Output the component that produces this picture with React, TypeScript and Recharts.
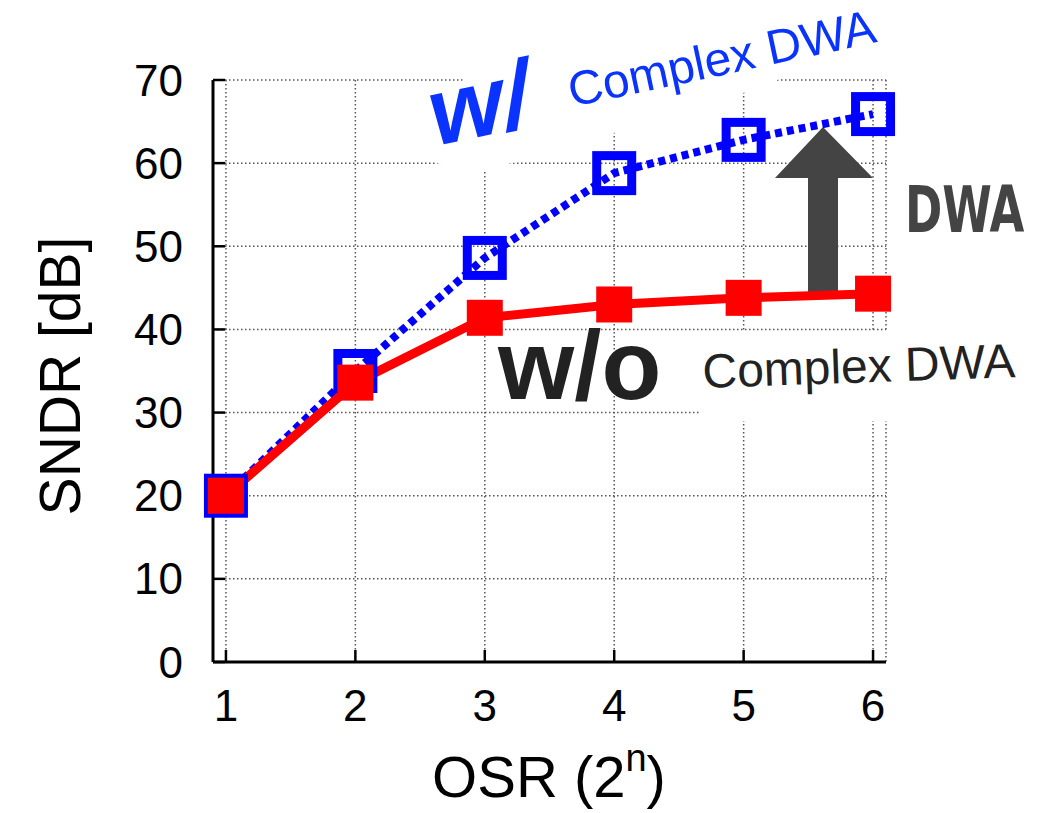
import React from 'react'
import {
  LineChart,
  Line,
  XAxis,
  YAxis,
  CartesianGrid,
  Customized
} from 'recharts'

// OSR exponent n (OSR = 2^n)
const osr = [1, 2, 3, 4, 5, 6]
// SNDR [dB] with complex DWA
const sndrWithCdwa = [20, 35, 48.6, 58.8, 62.8, 65.9]
// SNDR [dB] without complex DWA
const sndrWithoutCdwa = [20, 33.6, 41.4, 43, 43.8, 44.3]
const yTicks = [0, 10, 20, 30, 40, 50, 60, 70]

const data = osr.map((n, i) => ({
  n,
  withCdwa: sndrWithCdwa[i],
  withoutCdwa: sndrWithoutCdwa[i]
}))

const FONT = "'Liberation Sans', Arial, Helvetica, sans-serif"
const X_DOMAIN: [number, number] = [0.9, 6.1]
const Y_DOMAIN: [number, number] = [0, 70]

const BlueSquare = (props: any) => {
  const { cx, cy, index } = props
  if (cx == null || cy == null) return null
  return (
    <rect key={`b-${index}`} x={cx - 17.5} y={cy - 17.5} width={35} height={35}
      fill="none" stroke="#0000ff" strokeWidth={9} />
  )
}

const RedSquare = (props: any) => {
  const { cx, cy, index } = props
  if (cx == null || cy == null) return null
  return <rect key={`r-${index}`} x={cx - 18} y={cy - 18} width={36} height={36} fill="#ff0000" />
}

// labels, white label boxes, DWA arrow and axis titles
function Annotations() {
  return (
    <g>
      {/* white boxes behind the labels */}
      <polygon
        points="435,163 485,170 520,161 614,133 743,93 780,79 900,40 900,0 480,0 463,79"
        fill="#fff"
      />
      <rect x={700} y={331} width={330} height={90} fill="#fff" />

      {/* arrow */}
      <polygon
        points="808,292 838,292 838,178 873,178 823,127 775,178 808,178"
        fill="#444"
      />

      <text x={436} y={146} transform="rotate(-12 436 146)" fontFamily={FONT}
        fontWeight="bold" fontStyle="italic" fontSize={96} fill="#0a33ff">w/</text>
      <text x={572} y={107} transform="rotate(-12 572 107)" fontFamily={FONT}
        fontSize={48} fill="#0a33ff">Complex DWA</text>

      <text x={498} y={399} fontFamily={FONT} fontWeight="bold" fontSize={98} fill="#222">w/o</text>
      <text x={703} y={388} transform="rotate(-2 703 388)" fontFamily={FONT}
        fontSize={48} fill="#222">Complex DWA</text>

      <text x={0} y={0} transform="translate(905 232) scale(0.78 1)"
        fontFamily="'Liberation Sans Narrow', 'DejaVu Sans Condensed', sans-serif"
        fontWeight="bold" fontSize={64} fill="#444">DWA</text>

      {/* axis titles */}
      <text x={549} y={797} textAnchor="middle" fontFamily={FONT} fontSize={58} fill="#000">
        OSR (2<tspan dy={-26} fontSize={38}>n</tspan><tspan dy={26}>)</tspan>
      </text>
      <text x={80} y={376} transform="rotate(-90 80 376)" textAnchor="middle" fontFamily={FONT}
        fontSize={57} fill="#000">SNDR [dB]</text>
    </g>
  )
}

const axisLine = { stroke: '#000', strokeWidth: 3 }
const tickLine = { stroke: '#000', strokeWidth: 2.5 }
const tickStyle = { fill: '#000', fontSize: 44, fontFamily: FONT }

export default function App() {
  return (
    <div style={{ position: 'absolute', left: 0, top: 0, width: 1043, height: 813, background: '#fff' }}>
      <LineChart width={1043} height={813} data={data}
        margin={{ top: 80, right: 157, bottom: 0, left: 0 }}>
        <CartesianGrid stroke="#555" strokeWidth={1.5} strokeDasharray="1.5 2.5" />
        <XAxis dataKey="n" type="number" domain={X_DOMAIN} ticks={osr} height={151}
          axisLine={axisLine} tickLine={tickLine} tickSize={-12} tickMargin={40} tick={tickStyle} />
        <XAxis xAxisId="top" orientation="top" dataKey="n" type="number" domain={X_DOMAIN}
          ticks={osr} height={0} axisLine={axisLine} tickLine={tickLine} tickSize={-12} tick={false} />
        <YAxis type="number" domain={Y_DOMAIN} ticks={yTicks} width={213} interval={0}
          axisLine={axisLine} tickLine={tickLine} tickSize={-12} tickMargin={42} tick={tickStyle} />
        <YAxis yAxisId="right" orientation="right" type="number" domain={Y_DOMAIN} ticks={yTicks}
          width={0} axisLine={axisLine} tickLine={tickLine} tickSize={-12} tick={false} />
        <Line type="linear" dataKey="withCdwa" stroke="#0000ff" strokeWidth={8}
          strokeDasharray="7 5" dot={BlueSquare} activeDot={false} isAnimationActive={false} />
        <Line type="linear" dataKey="withoutCdwa" stroke="#ff0000" strokeWidth={9}
          dot={RedSquare} activeDot={false} isAnimationActive={false} />
        <Customized component={Annotations} />
      </LineChart>
    </div>
  )
}
